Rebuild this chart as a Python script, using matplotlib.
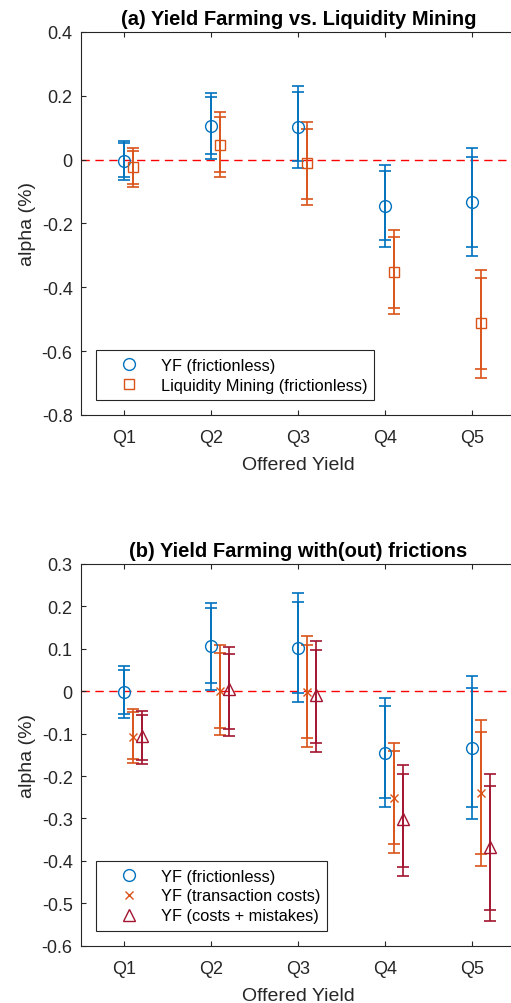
import numpy as np
import matplotlib
matplotlib.use("Agg")
import matplotlib.pyplot as plt

plt.rcParams['font.family'] = ['Liberation Sans', 'DejaVu Sans']
plt.rcParams['axes.unicode_minus'] = False

# quintiles of offered yield
quintiles = ['Q1', 'Q2', 'Q3', 'Q4', 'Q5']

# YF frictionless: estimate, 90% CI, 95% CI
yf_est = [-0.003, 0.106, 0.103, -0.145, -0.133]
yf_lo90 = [-0.053, 0.019, -0.005, -0.253, -0.274]
yf_hi90 = [0.051, 0.195, 0.211, -0.036, 0.008]
yf_lo95 = [-0.064, 0.002, -0.026, -0.274, -0.302]
yf_hi95 = [0.059, 0.209, 0.232, -0.016, 0.035]

# liquidity mining frictionless
lm_est = [-0.024, 0.046, -0.012, -0.353, -0.513]
lm_lo90 = [-0.076, -0.040, -0.122, -0.466, -0.656]
lm_hi90 = [0.028, 0.135, 0.097, -0.242, -0.372]
lm_lo95 = [-0.086, -0.055, -0.142, -0.485, -0.683]
lm_hi95 = [0.036, 0.149, 0.118, -0.220, -0.345]

# YF with transaction costs
tc_est = [-0.107, 0.000, -0.001, -0.252, -0.240]
tc_lo90 = [-0.160, -0.087, -0.110, -0.361, -0.385]
tc_hi90 = [-0.050, 0.090, 0.109, -0.142, -0.097]
tc_lo95 = [-0.170, -0.103, -0.132, -0.382, -0.411]
tc_hi95 = [-0.043, 0.108, 0.130, -0.121, -0.069]

# YF with costs + mistakes
cm_est = [-0.106, 0.005, -0.010, -0.302, -0.367]
cm_lo90 = [-0.162, -0.089, -0.121, -0.415, -0.516]
cm_hi90 = [-0.055, 0.088, 0.098, -0.195, -0.223]
cm_lo95 = [-0.172, -0.105, -0.143, -0.436, -0.542]
cm_hi95 = [-0.046, 0.105, 0.118, -0.173, -0.196]

blue = '#0072BD'
orange = '#D95319'
darkred = '#A2142F'
axcol = '#262626'

x = np.arange(1, 6)


def ci_bars(ax, xs, est, lo90, hi90, lo95, hi95, color):
    est = np.array(est)
    for lo, hi in [(lo95, hi95), (lo90, hi90)]:
        err = [est - np.array(lo), np.array(hi) - est]
        ax.errorbar(xs, est, yerr=err, fmt='none', ecolor=color,
                    elinewidth=1.2, capsize=4.3, capthick=1.2)


def style_axes(ax, ylim, yticks, title):
    ax.set_xlim(0.5, 5.5)
    ax.set_ylim(*ylim)
    ax.set_xticks(x)
    ax.set_xticklabels(quintiles)
    ax.set_yticks(yticks)
    ax.set_yticklabels(['%g' % t for t in yticks])
    ax.tick_params(direction='in', length=3.5, width=0.8, colors=axcol,
                   labelsize=13, top=True, right=True)
    ax.tick_params(axis='x', pad=10)
    ax.tick_params(axis='y', pad=6)
    for s in ax.spines.values():
        s.set_color(axcol)
        s.set_linewidth(0.8)
    ax.set_title(title, fontsize=14.5, fontweight='bold', pad=6)
    ax.set_xlabel('Offered Yield', fontsize=14, color=axcol, labelpad=7.5)
    ax.set_ylabel('alpha (%)', fontsize=14, color=axcol)
    ax.yaxis.set_label_coords(-0.104, 0.5)
    ax.axhline(0, color='r', ls=(0, (6, 4)), lw=1, zorder=0)


fig = plt.figure(figsize=(5.11, 10.04), dpi=100)

# panel (a)
ax1 = fig.add_axes([0.1585, 0.5857, 0.851, 0.3815])
ci_bars(ax1, x, yf_est, yf_lo90, yf_hi90, yf_lo95, yf_hi95, blue)
ci_bars(ax1, x + 0.1, lm_est, lm_lo90, lm_hi90, lm_lo95, lm_hi95, orange)
h1, = ax1.plot(x, yf_est, 'o', ms=8.5, mfc='none', mec=blue, mew=1.0,
               label='YF (frictionless)')
h2, = ax1.plot(x + 0.1, lm_est, 's', ms=6.8, mfc='none', mec=orange, mew=1.0,
               label='Liquidity Mining (frictionless)')
style_axes(ax1, (-0.8, 0.4), [-0.8, -0.6, -0.4, -0.2, 0, 0.2, 0.4],
           '(a) Yield Farming vs. Liquidity Mining')
leg = ax1.legend(handles=[h1, h2], loc='lower left',
                 bbox_to_anchor=(0.034, 0.039), borderaxespad=0,
                 fontsize=11.8, handlelength=3.1, handletextpad=0.4,
                 borderpad=0.45, labelspacing=0.3, fancybox=False,
                 framealpha=1, edgecolor=axcol)
leg.get_frame().set_linewidth(0.8)

# panel (b)
ax2 = fig.add_axes([0.1585, 0.0571, 0.851, 0.3802])
ci_bars(ax2, x, yf_est, yf_lo90, yf_hi90, yf_lo95, yf_hi95, blue)
ci_bars(ax2, x + 0.1, tc_est, tc_lo90, tc_hi90, tc_lo95, tc_hi95, orange)
ci_bars(ax2, x + 0.2, cm_est, cm_lo90, cm_hi90, cm_lo95, cm_hi95, darkred)
g1, = ax2.plot(x, yf_est, 'o', ms=8.5, mfc='none', mec=blue, mew=1.0,
               label='YF (frictionless)')
g2, = ax2.plot(x + 0.1, tc_est, 'x', ms=6, mfc='none', mec=orange, mew=1.0,
               label='YF (transaction costs)')
g3, = ax2.plot(x + 0.2, cm_est, '^', ms=9, mfc='none', mec=darkred, mew=1.0,
               label='YF (costs + mistakes)')
style_axes(ax2, (-0.6, 0.3), [-0.6, -0.5, -0.4, -0.3, -0.2, -0.1, 0, 0.1, 0.2, 0.3],
           '(b) Yield Farming with(out) frictions')
leg2 = ax2.legend(handles=[g1, g2, g3], loc='lower left',
                  bbox_to_anchor=(0.034, 0.039), borderaxespad=0,
                  fontsize=11.8, handlelength=3.1, handletextpad=0.4,
                  borderpad=0.45, labelspacing=0.3, fancybox=False,
                  framealpha=1, edgecolor=axcol)
leg2.get_frame().set_linewidth(0.8)

fig.savefig('out.png', dpi=100)
